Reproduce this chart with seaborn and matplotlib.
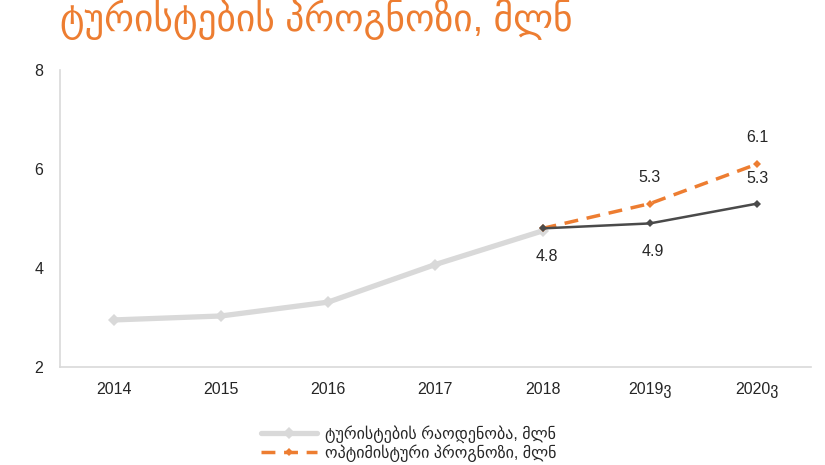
import matplotlib
matplotlib.use("Agg")
import matplotlib.pyplot as plt
import seaborn as sns
import pandas as pd

years = ["2014", "2015", "2016", "2017", "2018", "2019ვ", "2020ვ"]
actual = [2.95, 3.03, 3.31, 4.07, 4.75]
base_fc = [4.8, 4.9, 5.3]
opt_fc = [4.8, 5.3, 6.1]
fc_years = ["2018", "2019ვ", "2020ვ"]

title = "ტურისტების პროგნოზი, მლნ"
lbl_actual = "ტურისტების რაოდენობა, მლნ"
lbl_opt = "ოპტიმისტური პროგნოზი, მლნ"
lbl_base = "საბაზისო პროგნოზი, მლნ"

sns.set_style("white")
plt.rcParams["font.family"] = ["Liberation Sans", "DejaVu Sans"]

pos = {y: i for i, y in enumerate(years)}
df_a = pd.DataFrame({"x": [pos[y] for y in years[:len(actual)]], "v": actual})
df_b = pd.DataFrame({"x": [pos[y] for y in fc_years], "v": base_fc})
df_o = pd.DataFrame({"x": [pos[y] for y in fc_years], "v": opt_fc})

fig = plt.figure(figsize=(8.25, 4.65), dpi=100)
ax = fig.add_axes([0.0727, 0.2108, 0.91, 0.6387])

c_gray = "#D9D9D9"
c_dark = "#4A4A4A"
c_orange = "#ED7D31"
txt = "#262626"

sns.lineplot(data=df_a, x="x", y="v", ax=ax, color=c_gray, lw=3.8,
             marker="D", markersize=6, markeredgewidth=0, label=lbl_actual)
sns.lineplot(data=df_o, x="x", y="v", ax=ax, color=c_orange, lw=2.5,
             marker="D", markersize=4, markeredgewidth=0, label=lbl_opt)
ax.lines[-1].set_linestyle((0, (4, 2.5)))
sns.lineplot(data=df_b, x="x", y="v", ax=ax, color=c_dark, lw=1.8,
             marker="D", markersize=4, markeredgewidth=0, label=lbl_base)

# data labels
for x, v in zip(df_o["x"][1:], df_o["v"][1:]):
    ax.annotate(f"{v:.1f}", (x, v), xytext=(0, 19), textcoords="offset points",
                ha="center", va="center", fontsize=11.5, color=txt)
for i, (x, v) in enumerate(zip(df_b["x"], df_b["v"])):
    off = [(3, -20), (2, -20), (0, 18)][i]
    ax.annotate(f"{v:.1f}", (x, v), xytext=off, textcoords="offset points",
                ha="center", va="center", fontsize=11.5, color=txt)

ax.set_xlim(-0.5, len(years) - 0.5)
ax.set_ylim(2, 8)
ax.set_xticks(range(len(years)))
ax.set_xticklabels(years)
ax.set_yticks([2, 4, 6, 8])
ax.set_xlabel("")
ax.set_ylabel("")
ax.tick_params(axis="both", length=0, labelsize=11.5, colors=txt)
ax.tick_params(axis="x", pad=11)
ax.tick_params(axis="y", pad=12)
for s in ["top", "right"]:
    ax.spines[s].set_visible(False)
for s in ["left", "bottom"]:
    ax.spines[s].set_color(c_gray)
    ax.spines[s].set_linewidth(1.2)

ax.legend_.remove()
h, l = ax.get_legend_handles_labels()
fig.legend(h[:2], l[:2], loc="upper left", bbox_to_anchor=(0.309, 0.1000),
           frameon=False, fontsize=11.5, handlelength=3.5,
           labelspacing=0.1, handletextpad=0.5, labelcolor=txt,
           borderaxespad=0.0)

fig.text(0.073, 1 - 31 / 465, title, color=c_orange, fontsize=27,
         ha="left", va="baseline")

fig.savefig("out.png", dpi=100)
